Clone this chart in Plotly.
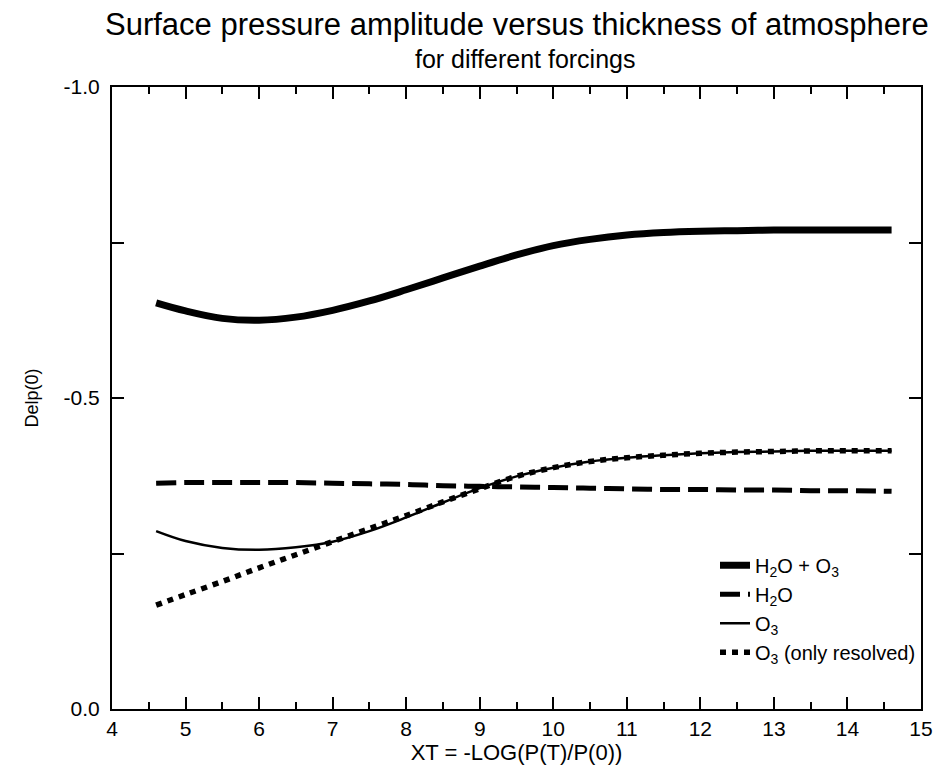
import plotly.graph_objects as go

xt = [4.6, 5.0, 5.5, 6.0, 6.5, 7.0, 7.5, 8.0, 8.5, 9.0, 9.5, 10.0, 10.5,
      11.0, 11.5, 12.0, 12.5, 13.0, 13.5, 14.0, 14.6]
h2o_o3 = [-0.653, -0.640, -0.628, -0.625, -0.630, -0.641, -0.656, -0.674, -0.693,
          -0.712, -0.730, -0.745, -0.755, -0.762, -0.766, -0.768, -0.769, -0.770,
          -0.770, -0.770, -0.770]
h2o = [-0.363, -0.364, -0.364, -0.364, -0.364, -0.363, -0.362, -0.361, -0.359,
       -0.358, -0.357, -0.356, -0.355, -0.354, -0.353, -0.353, -0.352, -0.352,
       -0.351, -0.351, -0.350]
o3 = [-0.286, -0.270, -0.259, -0.256, -0.260, -0.269, -0.286, -0.308, -0.332,
      -0.355, -0.374, -0.388, -0.398, -0.404, -0.408, -0.411, -0.413, -0.414,
      -0.415, -0.415, -0.415]
o3_res = [-0.167, -0.184, -0.205, -0.227, -0.248, -0.269, -0.290, -0.311, -0.333,
          -0.354, -0.374, -0.388, -0.398, -0.404, -0.408, -0.411, -0.413, -0.414,
          -0.415, -0.415, -0.415]

y_tickvals = [0, -0.5, -1.0]
y_ticktext = ["0.0", "-0.5", "-1.0"]
x_tickvals = list(range(4, 16))

FONT = "Liberation Sans, Arial, sans-serif"

fig = go.Figure()
fig.add_trace(go.Scatter(x=xt, y=h2o_o3, mode="lines", line=dict(color="black", width=7, shape="spline"),
                         name="H<sub>2</sub>O + O<sub>3</sub>"))
fig.add_trace(go.Scatter(x=xt, y=h2o, mode="lines", line=dict(color="black", width=5, dash="20px,8px", shape="spline"),
                         name="H<sub>2</sub>O"))
fig.add_trace(go.Scatter(x=xt, y=o3, mode="lines", line=dict(color="black", width=2.5, shape="spline"),
                         name="O<sub>3</sub>"))
fig.add_trace(go.Scatter(x=xt, y=o3_res, mode="lines", line=dict(color="black", width=5.5, dash="6px,6px", shape="spline"),
                         name="O<sub>3</sub> (only resolved)"))

fig.update_layout(
    width=945, height=775,
    margin=dict(l=112, r=18, t=87, b=66),
    paper_bgcolor="white", plot_bgcolor="white",
    font=dict(family=FONT, color="black", size=20),
    showlegend=True,
    legend=dict(x=1.0, xanchor="right", y=0.06, yanchor="bottom",
                bgcolor="rgba(0,0,0,0)", font=dict(size=20, family=FONT),
                tracegroupgap=0, itemwidth=30),
    annotations=[
        dict(text="Surface pressure amplitude versus thickness of atmosphere", xref="paper", yref="paper",
             x=0.5, y=1.0, yshift=63, xanchor="center", yanchor="middle", showarrow=False,
             font=dict(size=31, family=FONT, color="black")),
        dict(text="for different forcings", xref="paper", yref="paper",
             x=0.51, y=1.0, yshift=28, xanchor="center", yanchor="middle", showarrow=False,
             font=dict(size=25, family=FONT, color="black")),
    ],
    xaxis=dict(range=[4, 15], tickvals=x_tickvals, ticks="inside", ticklen=12, tickwidth=1.5,
               tickcolor="black", showline=True, linecolor="black", linewidth=2, mirror="allticks",
               showgrid=False, zeroline=False, tickfont=dict(size=21),
               minor=dict(dtick=0.5, tick0=4, ticks="inside", ticklen=7, tickcolor="black", tickwidth=1.5, showgrid=False),
               title=dict(text="XT = -LOG(P(T)/P(0))", font=dict(size=22), standoff=2)),
    yaxis=dict(range=[0, -1.0], tickvals=y_tickvals, ticktext=y_ticktext, ticks="inside", ticklen=12,
               tickwidth=1.5, tickcolor="black", showline=True, linecolor="black", linewidth=2,
               mirror="allticks", showgrid=False, zeroline=False, tickfont=dict(size=21),
               ticklabelstandoff=6,
               minor=dict(dtick=0.25, tick0=0, ticks="inside", ticklen=12, tickcolor="black", tickwidth=1.5, showgrid=False),
               title=dict(text="Delp(0)", font=dict(size=18), standoff=20)),
)

fig.write_html("out.html")
